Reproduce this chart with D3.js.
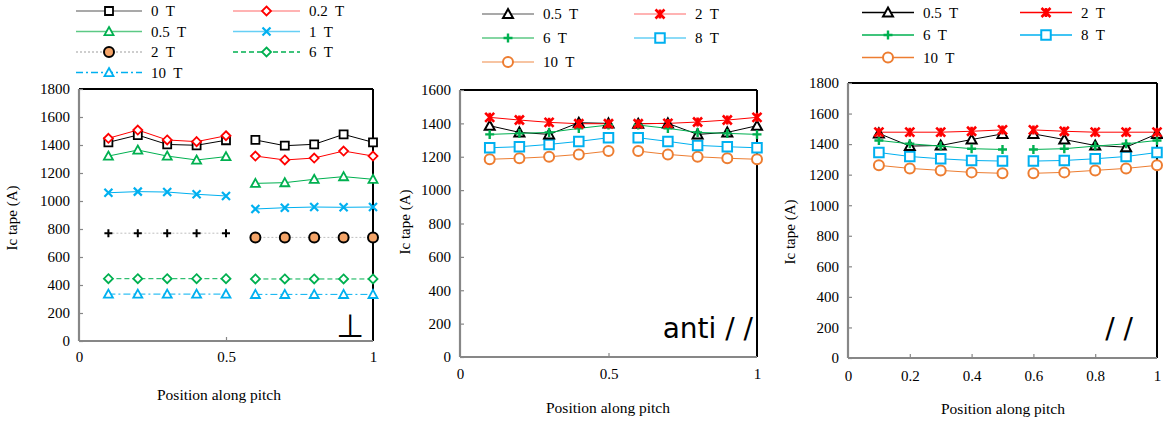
<!DOCTYPE html>
<html><head><meta charset="utf-8">
<script src="https://cdnjs.cloudflare.com/ajax/libs/d3/7.8.5/d3.min.js"></script>
<style>body{margin:0;background:#fff}svg{display:block}</style>
</head><body><svg id="c" width="1163" height="423"></svg>
<script>
// ---------- data ----------
const positions = [0.1,0.2,0.3,0.4,0.5,0.6,0.7,0.8,0.9,1.0];

// Panel 1 (perpendicular field)
const perp0T   = [1419,1471,1404,1398,1434, 1436,1395,1405,1476,1419];
const perp02T  = [1448,1507,1436,1424,1466, 1321,1293,1307,1357,1321];
const perp05T  = [1321,1364,1321,1293,1317, 1126,1131,1155,1174,1155];
const perp1T   = [1059,1067,1064,1048,1036, 943,952,957,955,957];
const perp2T   = [770,770,770,770,770, 740,740,740,740,740];
const perp6T   = [445,445,445,445,445, 443,443,443,443,443];
const perp10T  = [335,335,335,335,335, 333,333,333,333,333];

// Panel 2 (anti-parallel)
const anti05T = [1386,1346,1334,1404,1400, 1398,1400,1334,1346,1386];
const anti2T  = [1436,1420,1406,1398,1398, 1398,1400,1408,1420,1436];
const anti6T  = [1334,1340,1346,1370,1390, 1390,1370,1346,1340,1334];
const anti8T  = [1254,1260,1274,1292,1314, 1314,1292,1268,1260,1254];
const anti10T = [1185,1191,1200,1214,1234, 1234,1214,1200,1191,1185];

// Panel 3 (parallel)
const par05T = [1470,1387,1391,1430,1467, 1467,1430,1391,1380,1467];
const par2T  = [1478,1478,1478,1484,1493, 1493,1484,1478,1478,1478];
const par6T  = [1424,1402,1387,1370,1365, 1365,1370,1387,1402,1424];
const par8T  = [1345,1319,1304,1293,1289, 1289,1293,1304,1319,1345];
const par10T = [1261,1241,1228,1215,1209, 1209,1215,1228,1241,1261];

const perpXTicks = [0,0.5,1];
const antiXTicks = [0,0.5,1];
const parXTicks  = [0,0.2,0.4,0.6,0.8,1];
const perpYTicks = [0,200,400,600,800,1000,1200,1400,1600,1800];
const antiYTicks = [0,200,400,600,800,1000,1200,1400,1600];
const parYTicks  = [0,200,400,600,800,1000,1200,1400,1600,1800];

// ---------- drawing ----------
const svg = d3.select("#c");
const SERIF = "'Liberation Serif','Times New Roman',serif";

function markerPath(type, s){
  const h = s/2;
  switch(type){
    case "square": return `M${-h},${-h}H${h}V${h}H${-h}Z`;
    case "diamond": return `M0,${-h}L${h},0L0,${h}L${-h},0Z`;
    case "triangle": return `M0,${-h}L${h},${h*0.8}L${-h},${h*0.8}Z`;
    case "x": return `M${-h},${-h}L${h},${h}M${-h},${h}L${h},${-h}`;
    case "plus": return `M${-h},0H${h}M0,${-h}V${h}`;
    case "asterisk": return `M${-h},${-h}L${h},${h}M${-h},${h}L${h},${-h}M0,${-h}V${h}`;
    case "circle": return d3.arc()({innerRadius:0,outerRadius:h,startAngle:0,endAngle:2*Math.PI});
  }
}
function drawMarker(g, type, x, y, st){
  g.append("path").attr("d", markerPath(type, st.size))
    .attr("transform", `translate(${x},${y})`)
    .attr("fill", (type==="circle"||type==="square"||type==="diamond"||type==="triangle") ? (st.fill||"#fff") : "none")
    .attr("stroke", st.mcolor).attr("stroke-width", st.mw||1.8);
}

function panel(cfg){
  const x = d3.scaleLinear().domain([0,1]).range([cfg.x0, cfg.x1]);
  const y = d3.scaleLinear().domain([0,cfg.ymax]).range([cfg.y0, cfg.y1]);
  const g = svg.append("g");
  // frame
  g.append("line").attr("x1",cfg.x0).attr("x2",cfg.x1).attr("y1",cfg.y1).attr("y2",cfg.y1).attr("stroke","#000").attr("stroke-width",2);
  g.append("line").attr("x1",cfg.x1).attr("x2",cfg.x1).attr("y1",cfg.y1).attr("y2",cfg.y0).attr("stroke","#000").attr("stroke-width",2);
  // axes
  const ya = d3.axisLeft(y).tickValues(cfg.yticks).tickSize(-4).tickPadding(9).tickFormat(d3.format("d"));
  const yg = g.append("g").attr("transform",`translate(${cfg.x0},0)`).call(ya);
  const xa = d3.axisBottom(x).tickValues(cfg.xticks).tickSize(-4).tickPadding(cfg.xpad).tickFormat(d=>String(d));
  const xg = g.append("g").attr("transform",`translate(0,${cfg.y0})`).call(xa);
  [yg,xg].forEach(a=>{
    a.select(".domain").attr("stroke","#878787").attr("stroke-width",2.2);
    a.selectAll(".tick line").attr("stroke","#878787").attr("stroke-width",1.2);
    a.selectAll(".tick text").attr("font-family",SERIF).attr("font-size",15).attr("fill","#000");
  });
  yg.select(".domain").attr("d",`M0,${cfg.y0}V${cfg.y1}`);
  xg.select(".domain").attr("d",`M${cfg.x0},0H${cfg.x1}`);
  xg.selectAll(".tick").filter(d=>d===0||d===1).select("line").remove();
  // titles
  g.append("text").attr("transform",`translate(${cfg.ytx},${cfg.yty}) rotate(-90)`)
    .attr("text-anchor","middle").attr("font-family",SERIF).attr("font-size",15).text("Ic tape (A)");
  g.append("text").attr("x",cfg.xtx).attr("y",cfg.xty).attr("text-anchor","middle")
    .attr("font-family",SERIF).attr("font-size",15.5).text("Position along pitch");
  // series
  cfg.series.forEach(s=>{
    [[0,5],[5,10]].forEach(([a,b],k)=>{
      const pts = positions.slice(a,b).map((p,i)=>[x(p), y(s.values[a+i])]);
      g.append("path").attr("d", d3.line()(pts)).attr("fill","none")
        .attr("stroke", s.lcolor).attr("stroke-width", 1).attr("stroke-dasharray", s.dash||null);
    });
  });
  cfg.series.forEach(s=>{
    positions.forEach((p,i)=>{
      const type = (s.markers ? s.markers[i<5?0:1] : s.marker);
      const st = Object.assign({}, s, (s.mstyles ? s.mstyles[i<5?0:1] : {}));
      drawMarker(g, type, x(p), y(s.values[i]), st);
    });
  });
  // legend
  cfg.legend.forEach(L=>{
    const s = L.s;
    g.append("line").attr("x1",L.x).attr("x2",L.x+L.w).attr("y1",L.y).attr("y2",L.y)
      .attr("stroke", s.legColor||s.lcolor).attr("stroke-width",1.3).attr("stroke-dasharray", s.dash||null);
    const type = s.markers ? s.markers[1] : s.marker;
    const st = Object.assign({}, s, (s.mstyles ? s.mstyles[1] : {}));
    drawMarker(g, type, L.x+L.w/2, L.y, st);
    g.append("text").attr("x",L.x+L.w+9).attr("y",L.y+5).attr("font-family",SERIF).attr("font-size",15)
      .attr("xml:space","preserve").style("white-space","pre").text(s.name);
  });
  // label
  g.append("text").attr("x",cfg.lab.x).attr("y",cfg.lab.y).attr("text-anchor","end")
    .attr("font-family",cfg.lab.font).attr("font-size",cfg.lab.size)
    .attr("xml:space","preserve").style("white-space","pre").text(cfg.lab.text);
}

// Panel 1
const s1 = [
  {name:"0  T", values:perp0T, marker:"square", lcolor:"#000", legColor:"#8c8c8c", mcolor:"#000", size:8},
  {name:"0.2  T", values:perp02T, marker:"diamond", lcolor:"#ff0000", legColor:"#ff9a9a", mcolor:"#ff0000", size:9},
  {name:"0.5  T", values:perp05T, marker:"triangle", lcolor:"#00b050", legColor:"#5cc985", mcolor:"#00b050", size:9},
  {name:"1  T", values:perp1T, marker:"x", lcolor:"#00b0f0", legColor:"#66cff5", mcolor:"#00b0f0", size:8, mw:2.2},
  {name:"2  T", values:perp2T, markers:["plus","circle"], lcolor:"#bfbfbf", dash:"2,2", mcolor:"#000",
     mstyles:[{size:8,mw:2},{size:10,fill:"#f4a468",mw:2}]},
  {name:"6  T", values:perp6T, marker:"diamond", lcolor:"#00b050", dash:"5,3", mcolor:"#00b050", size:9},
  {name:"10  T", values:perp10T, marker:"triangle", lcolor:"#00b0f0", dash:"7,3,2,3", mcolor:"#00b0f0", size:9},
];
panel({x0:79,x1:373,y0:341,y1:89,ymax:1800,xticks:perpXTicks,yticks:perpYTicks,xpad:10,
  ytx:17,yty:218,xtx:219,xty:400,series:s1,
  legend:[
    {s:s1[0],x:76,y:11,w:66},{s:s1[1],x:233,y:11,w:67},
    {s:s1[2],x:76,y:31.5,w:66},{s:s1[3],x:233,y:31.5,w:67},
    {s:s1[4],x:76,y:52,w:66},{s:s1[5],x:233,y:52,w:67},
    {s:s1[6],x:76,y:72.5,w:66}],
  lab:{x:364,y:337,text:"⊥",font:"'DejaVu Sans',sans-serif",size:32}});

// Panel 2
function pSeries(v05,v2,v6,v8,v10,light){
  return [
    {name:"10  T", values:v10, marker:"circle", lcolor:"#ed7d31", legColor:light?"#f4b183":"#ed7d31", mcolor:"#ed7d31", size:10, mw:2},
    {name:"8  T", values:v8, marker:"square", lcolor:"#00b0f0", legColor:light?"#66cff5":"#00b0f0", mcolor:"#00b0f0", size:9.5, mw:2},
    {name:"0.5  T", values:v05, marker:"triangle", lcolor:"#000", legColor:light?"#8c8c8c":"#000", mcolor:"#000", size:10, mw:2},
    {name:"6  T", values:v6, marker:"plus", lcolor:"#00b050", legColor:light?"#5cc985":"#00b050", mcolor:"#00b050", size:9, mw:2.4},
    {name:"2  T", values:v2, marker:"asterisk", lcolor:"#ff0000", legColor:light?"#ff9a9a":"#ff0000", mcolor:"#ff0000", size:9, mw:2.6},
  ];
}
const s2 = pSeries(anti05T,anti2T,anti6T,anti8T,anti10T,true);
panel({x0:460,x1:757,y0:357,y1:90,ymax:1600,xticks:antiXTicks,yticks:antiYTicks,xpad:11,
  ytx:410,yty:222,xtx:608,xty:413,series:s2,
  legend:[
    {s:s2[2],x:482,y:14,w:52},{s:s2[4],x:634,y:14,w:52},
    {s:s2[3],x:482,y:38,w:52},{s:s2[1],x:634,y:38,w:52},
    {s:s2[0],x:482,y:62,w:52}],
  lab:{x:753,y:338,text:"anti / /",font:"'DejaVu Sans',sans-serif",size:28}});

// Panel 3
const s3 = pSeries(par05T,par2T,par6T,par8T,par10T,false);
panel({x0:848,x1:1157,y0:358,y1:83,ymax:1800,xticks:parXTicks,yticks:parYTicks,xpad:12,
  ytx:795,yty:232,xtx:1003,xty:414,series:s3,
  legend:[
    {s:s3[2],x:862,y:12.5,w:52},{s:s3[4],x:1020,y:12.5,w:52},
    {s:s3[3],x:862,y:35,w:52},{s:s3[1],x:1020,y:35,w:52},
    {s:s3[0],x:862,y:57.5,w:52}],
  lab:{x:1133,y:338,text:"/ /",font:"'DejaVu Sans',sans-serif",size:28}});
</script></body></html>
